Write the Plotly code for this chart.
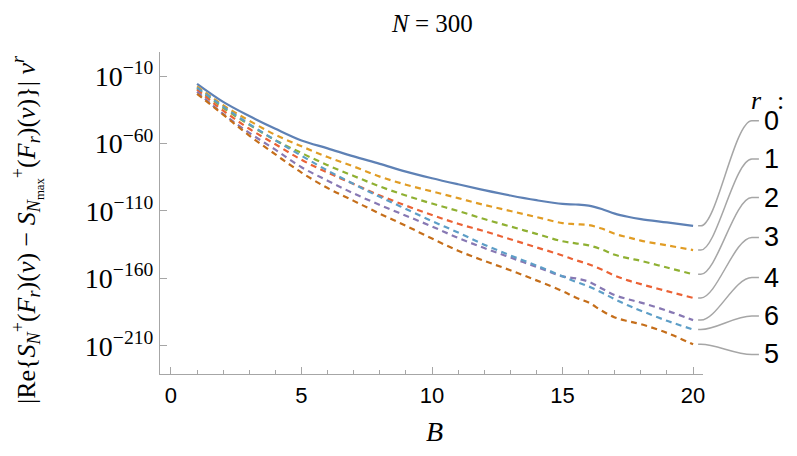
import plotly.graph_objects as go

B = [1, 2, 3, 4, 5, 6, 7, 8, 9, 10, 11, 12, 13, 14, 15, 15.5, 16, 16.5, 17, 17.5, 18, 19, 20]

# log10 of |Re{...}| nu^r for each r
r0 = [-15.6, -29, -39.5, -49, -57.7, -63.5, -69.5, -75, -80.8, -85.7, -90.2, -94.5, -98.5, -102,
      -104.8, -105.2, -106, -108.5, -112, -114.3, -116, -118.5, -121]
r1 = [-17.5, -31.5, -43, -53.5, -62, -70, -77, -84.5, -90.5, -95.5, -100.5, -105.5, -110, -114.5,
      -119, -119.8, -120.5, -123, -127, -129.5, -132, -135.5, -139]
r2 = [-19, -33.5, -46, -57.5, -67, -76, -84, -91.8, -98.5, -104.5, -110, -116, -121.5, -127,
      -132.5, -134, -135.5, -138.5, -142.5, -145, -147, -152, -157]
r3 = [-20, -35.5, -49, -60.5, -72, -81.5, -90, -98.5, -106, -113, -119.5, -125, -131, -137,
      -143, -146.5, -149.5, -153.5, -158, -161.5, -164.3, -169.5, -174.5]
r4 = [-21.5, -38, -52, -64.5, -77.5, -87.5, -97, -105.5, -113.5, -121.5, -130, -137.5, -144.5, -151.5,
      -158.5, -160, -162.5, -167.5, -172.5, -175.5, -178, -184, -191]
r5 = [-23, -38.5, -54, -68, -81.5, -93, -102.5, -112, -121, -130.5, -139.5, -147, -154, -161.5,
      -169.5, -174.2, -178, -184, -189, -191.8, -194, -200.5, -209]
r6 = [-18.5, -32.5, -45.5, -57.5, -69, -80, -90, -99.5, -108.5, -117.5, -126, -135, -143, -150.5,
      -158.5, -162.5, -166, -170.5, -175.5, -180, -184, -191.5, -198]

series = {"0": r0, "1": r1, "2": r2, "3": r3, "4": r4, "5": r5, "6": r6}
colors = {"0": "#5E81B5", "1": "#E19C24", "2": "#8FB032", "3": "#EB6235",
          "4": "#8778B3", "5": "#C56E1A", "6": "#5D9EC7"}

# right-hand labels, top to bottom, and where they sit (log10 units)
label_order = ["0", "1", "2", "3", "4", "6", "5"]
label_y = [-43, -71.5, -100, -129.6, -159.4, -188, -216.5]

ytick_vals = [-10, -60, -110, -160, -210]
ytick_text = ["10<sup>\u2212%d</sup>" % (-v) for v in ytick_vals]

serif = "Liberation Serif"
sans = "Liberation Sans"
grey = "#a6a6a6"

fig = go.Figure()
for r in ["0", "1", "2", "3", "4", "5", "6"]:
    fig.add_trace(go.Scatter(
        x=B, y=series[r], mode="lines", name="r=" + r,
        line=dict(color=colors[r], width=2.2, shape="spline",
                  dash="solid" if r == "0" else "6px,4.5px"),
    ))

# grey leader lines from curve ends to labels
for lab, ly in zip(label_order, label_y):
    y0 = series[lab][-1]
    fig.add_shape(type="path", xref="paper", yref="y",
                  path="M 0.991,%g L 0.996,%g C 1.025,%g 1.058,%g 1.09,%g L 1.103,%g"
                       % (y0, y0, y0, ly, ly, ly),
                  line=dict(color=grey, width=1.5))
    fig.add_annotation(x=1.108, y=ly, xref="paper", yref="y", text=lab, showarrow=False,
                       xanchor="left", font=dict(family=sans, size=27, color="black"))

# "r :" header above the labels
fig.add_annotation(x=1.084, y=-28, xref="paper", yref="y", text="<i>r</i>", showarrow=False,
                   xanchor="left", font=dict(family=serif, size=26, color="black"))
fig.add_annotation(x=1.133, y=-28, xref="paper", yref="y", text=":", showarrow=False,
                   xanchor="left", font=dict(family=serif, size=26, color="black"))

fig.add_annotation(x=0.5, y=1.09, xref="paper", yref="paper", text="<i>N</i> = 300",
                   yanchor="middle", borderpad=0, showarrow=False,
                   font=dict(family=serif, size=25, color="black"))
fig.add_annotation(x=0.505, y=-0.18, xref="paper", yref="paper", text="<i>B</i>",
                   yanchor="middle", showarrow=False, font=dict(family=serif, size=28, color="black"))
fig.add_annotation(
    x=-0.245, y=0.45, xref="paper", yref="paper", textangle=-90, showarrow=False,
    xanchor="center", yanchor="middle",
    text="|Re{<i>S</i><sub><i>N</i></sub><sup>+</sup>(<i>F<sub>r</sub></i>)(<i>v</i>) \u2212 "
         "<i>S</i><sub><i>N</i><sub>max</sub></sub><sup>+</sup>(<i>F<sub>r</sub></i>)(<i>v</i>)}|"
         " <i>\u03bd<sup>r</sup></i>",
    font=dict(family=serif, size=26, color="black"))

# page body has an 8px margin, so the figure is 8px smaller each way
fig.update_layout(
    width=789, height=448,
    margin=dict(l=152, r=94, t=44, b=82),
    plot_bgcolor="white", paper_bgcolor="white",
    showlegend=False,
)
fig.update_xaxes(
    range=[-0.42, 20.38], tick0=0, dtick=5, showgrid=False, zeroline=False,
    showline=True, linecolor=grey, linewidth=1.2,
    ticks="inside", ticklen=7, tickcolor=grey, ticklabelstandoff=1,
    minor=dict(dtick=1, ticks="inside", ticklen=4, tickcolor=grey),
    tickfont=dict(family=sans, size=22, color="black"),
)
fig.update_yaxes(
    range=[-231, 8], tickvals=ytick_vals, ticktext=ytick_text, showgrid=False, zeroline=False,
    showline=True, linecolor=grey, linewidth=1.2,
    ticks="inside", ticklen=7, tickcolor=grey,
    tickfont=dict(family=serif, size=28, color="black"),
)

fig.write_html("out.html")
